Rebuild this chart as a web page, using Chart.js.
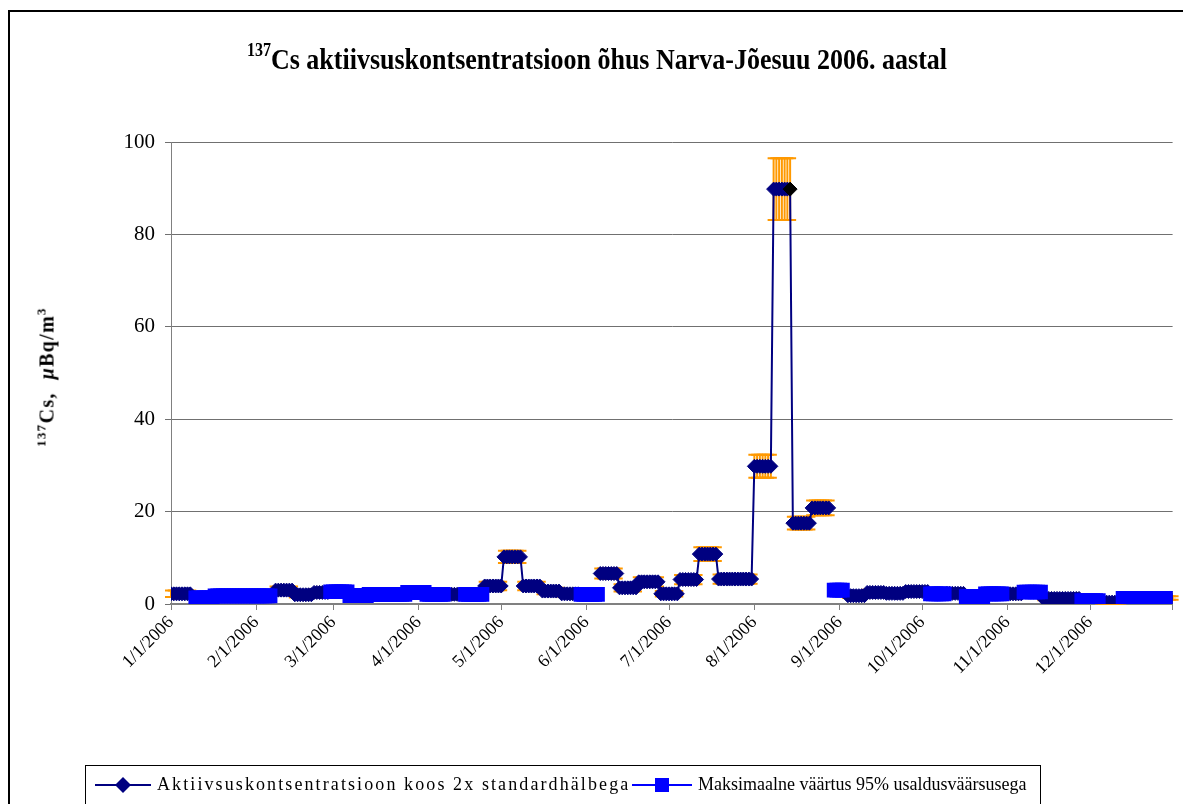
<!DOCTYPE html>
<html>
<head>
<meta charset="utf-8">
<script src="https://cdn.jsdelivr.net/npm/chart.js@4.4.1/dist/chart.umd.min.js"></script>
<style>
html, body { margin: 0; padding: 0; background: #fff; overflow: hidden; }
#wrap { position: relative; width: 1183px; height: 804px; overflow: hidden; }
#frameTop { position: absolute; left: 8px; top: 10px; width: 1175px; height: 2px; background: #000; }
#frameLeft { position: absolute; left: 8px; top: 10px; width: 2px; height: 794px; background: #000; }
#myChart { position: absolute; left: 0; top: 0; }
#title { position: absolute; left: 0; top: 42px; width: 1194px; text-align: center; font: bold 26px 'Liberation Serif', serif; white-space: nowrap; transform: scaleY(1.15); }
#title sup { font-size: 16px; vertical-align: 12px; }
#ytitle { position: absolute; left: 46px; top: 377px; transform: translate(-50%, -50%) rotate(-90deg); font: bold 20px 'Liberation Serif', serif; letter-spacing: 1.3px; white-space: nowrap; }
#ytitle sup { font-size: 13px; vertical-align: 8px; }
#legend { position: absolute; left: 85px; top: 765px; width: 954px; height: 38px; border: 1px solid #000; font: 18px 'Liberation Serif', serif; }
#legend .item { position: absolute; top: 8px; display: flex; align-items: center; white-space: nowrap; }
#legend svg { margin-right: 4px; }
#edge { position: absolute; left: 1179px; top: 13px; width: 4px; height: 791px; background: #fff; }
</style>
</head>
<body>
<div id="wrap">
  <div id="frameTop"></div>
  <div id="frameLeft"></div>
  <canvas id="myChart" width="1183" height="804"></canvas>
  <div id="edge"></div>
  <div id="title"><sup>137</sup>Cs aktiivsuskontsentratsioon õhus Narva-Jõesuu 2006. aastal</div>
  <div id="ytitle"><sup>137</sup>Cs,&nbsp;&nbsp;<i>µ</i>Bq/m<sup>3</sup></div>
  <div id="legend">
    <div class="item" style="left:9px">
      <svg width="58" height="20"><line x1="0" y1="10" x2="56" y2="10" stroke="#000080" stroke-width="2"/><polygon points="28,2 36,10 28,18 20,10" fill="#000080"/></svg>
      <span style="letter-spacing:2.1px">Aktiivsuskontsentratsioon koos 2x standardhälbega</span>
    </div>
    <div class="item" style="left:546px">
      <svg width="62" height="20"><line x1="0" y1="10" x2="60" y2="10" stroke="#0000FF" stroke-width="2"/><rect x="23" y="3" width="14" height="14" fill="#0000FF"/></svg>
      <span>Maksimaalne väärtus 95% usaldusväärsusega</span>
    </div>
  </div>
</div>
<script>
// measured weeks (navy, with 2x std deviation)
const aStart = ['1/1','2/8','2/15','2/22','4/11','4/25','5/2','5/9','5/16','5/23','6/6','6/13','6/20','6/28','7/5','7/12','7/19','7/26','8/1','8/8','8/15','8/22','9/4','9/11','9/18','9/25','10/10','10/31','11/14','11/21','12/5','12/30'];
const aEnd   = ['1/8','2/14','2/21','2/27','4/17','5/1','5/8','5/15','5/22','5/29','6/12','6/19','6/27','7/4','7/11','7/18','7/25','7/31','8/7','8/14','8/21','8/28','9/10','9/17','9/24','10/3','10/16','11/6','11/20','11/27','12/12','12/31'];
const aValue = [2.2,3.0,2.0,2.5,2.1,3.9,10.2,3.9,2.8,2.2,6.6,3.5,4.8,2.2,5.3,10.8,5.4,5.4,29.8,89.8,17.5,20.8,1.8,2.5,2.3,2.7,2.3,2.2,1.2,1.2,0.4,1.3];
const aError = [0.7,0.8,0.6,0.7,0.6,0.9,1.3,0.9,0.7,0.6,1.1,0.8,1.0,0.6,1.0,1.5,1.0,1.0,2.5,6.7,1.4,1.6,0.5,0.6,0.6,0.7,0.6,0.6,0.4,0.4,0.3,0.4];

// weeks below detection limit (max value, 95%)
const mStart = ['1/10','1/17','1/24','1/31','2/28','3/7','3/14','3/21','3/28','4/4','4/18','5/30','8/30','10/4','10/17','10/24','11/7','11/28','12/13','12/20','12/27'];
const mEnd   = ['1/16','1/23','1/30','2/6','3/6','3/13','3/20','3/27','4/3','4/10','4/24','6/5','9/2','10/9','10/23','10/30','11/13','12/4','12/19','12/26','12/29'];
const mValue = [1.35,1.75,1.75,1.75,2.65,1.8,2.1,2.1,2.5,2.1,2.1,2.1,3.0,2.2,1.6,2.2,2.6,0.75,1.2,1.2,1.2];

const tickDates  = ['1/1','2/1','3/1','4/1','5/1','6/1','7/1','8/1','9/1','10/1','11/1','12/1','12/31'];
const tickLabels = ['1/1/2006','2/1/2006','3/1/2006','4/1/2006','5/1/2006','6/1/2006','7/1/2006','8/1/2006','9/1/2006','10/1/2006','11/1/2006','12/1/2006',''];
const highlightDate = '8/14';

const year = 2006;
const nDays = 365;

function dayOf(s) {
    const [m, d] = s.split('/').map(Number);
    return Math.round((Date.UTC(year, m - 1, d) - Date.UTC(year, 0, 1)) / 864e5);
}

// one point per day of each sampling period
const aPoints = [], mPoints = [], aErr = [];
for (let i = 0; i < nDays; i++) {
    aPoints.push({ x: i, y: null });
    mPoints.push({ x: i, y: null });
    aErr.push(null);
}
aStart.forEach((s, k) => {
    for (let i = dayOf(s); i <= dayOf(aEnd[k]); i++) {
        aPoints[i].y = aValue[k];
        aErr[i] = aError[k];
    }
});
mStart.forEach((s, k) => {
    for (let i = dayOf(s); i <= dayOf(mEnd[k]); i++) {
        mPoints[i].y = mValue[k];
    }
});
const tickDays = tickDates.map(dayOf);
const highlightDay = dayOf(highlightDate);

const navy = '#000080';
const blue = '#0000FF';
const orange = '#FF9900';

const errorBars = {
    id: 'errorBars',
    beforeDatasetsDraw(chart) {
        const ctx = chart.ctx;
        const xs = chart.scales.x, ys = chart.scales.y;
        ctx.save();
        ctx.strokeStyle = orange;
        ctx.lineWidth = 2;
        aPoints.forEach((p, i) => {
            if (p.y === null) return;
            const x = xs.getPixelForValue(p.x);
            const yt = ys.getPixelForValue(p.y + aErr[i]);
            const yb = ys.getPixelForValue(p.y - aErr[i]);
            ctx.beginPath();
            ctx.moveTo(x, yt); ctx.lineTo(x, yb);
            ctx.moveTo(x - 6, yt); ctx.lineTo(x + 6, yt);
            ctx.moveTo(x - 6, yb); ctx.lineTo(x + 6, yb);
            ctx.stroke();
        });
        ctx.restore();
    }
};

const ctx = document.getElementById('myChart').getContext('2d');
const myChart = new Chart(ctx, {
    type: 'line',
    data: {
        datasets: [{
            label: 'Aktiivsuskontsentratsioon koos 2x standardhälbega',
            data: aPoints,
            order: 2,
            borderColor: navy,
            borderWidth: 2,
            pointStyle: 'rectRot',
            pointRadius: 7,
            pointBorderWidth: 1,
            pointBorderColor: c => c.dataIndex === highlightDay ? '#000' : navy,
            pointBackgroundColor: c => c.dataIndex === highlightDay ? '#000' : navy,
            spanGaps: false
        }, {
            label: 'Maksimaalne väärtus 95% usaldusväärsusega',
            data: mPoints,
            order: 1,
            borderColor: blue,
            borderWidth: 2,
            pointStyle: 'rect',
            pointRadius: 10.4,
            pointBorderWidth: 0,
            pointBackgroundColor: blue,
            spanGaps: false
        }]
    },
    options: {
        responsive: false,
        animation: false,
        events: [],
        layout: { padding: { left: 0, top: 142, right: 6, bottom: 100 } },
        plugins: {
            legend: { display: false },
            title: { display: false },
            tooltip: { enabled: false }
        },
        scales: {
            x: {
                type: 'linear',
                min: 0,
                max: nDays - 1,
                afterBuildTicks: s => { s.ticks = tickDays.map(v => ({ value: v })); },
                afterFit: s => { s.height = 100; s.paddingLeft = 0; s.paddingRight = 0; },
                ticks: {
                    autoSkip: false,
                    minRotation: 45,
                    maxRotation: 45,
                    padding: 2,
                    color: '#000',
                    font: { family: 'Liberation Serif', size: 18 },
                    callback: (v, i) => tickLabels[i]
                },
                grid: { drawOnChartArea: false, drawTicks: true, tickLength: 6, color: '#808080' },
                border: { display: true, color: '#808080', width: 2 }
            },
            y: {
                min: 0,
                max: 100,
                afterFit: s => { s.width = 171; },
                ticks: {
                    stepSize: 20,
                    padding: 10,
                    color: '#000',
                    font: { family: 'Liberation Serif', size: 21 }
                },
                grid: { color: '#707070', lineWidth: 1, tickLength: 6 },
                border: { display: true, color: '#808080', width: 1 }
            }
        }
    },
    plugins: [errorBars]
});
</script>
</body>
</html>
